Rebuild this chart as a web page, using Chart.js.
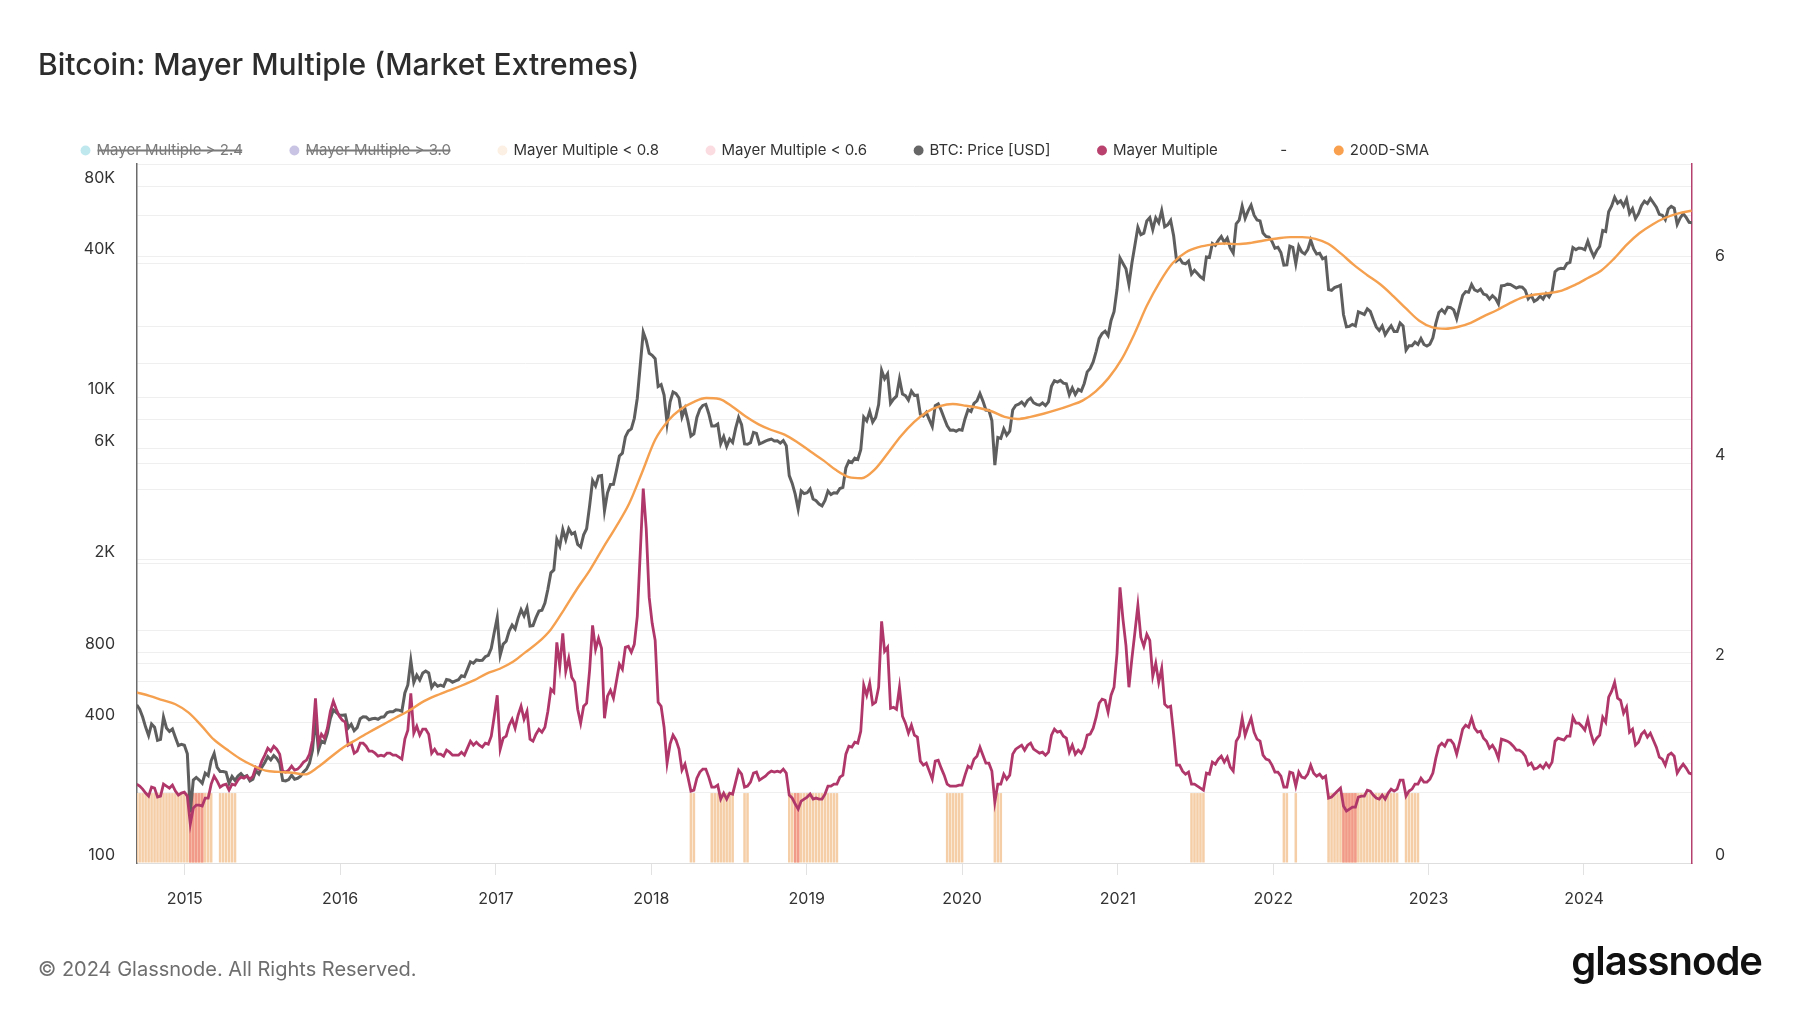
<!DOCTYPE html>
<html>
<head>
<meta charset="utf-8">
<title>Bitcoin: Mayer Multiple (Market Extremes)</title>
<script src="https://cdn.jsdelivr.net/npm/chart.js@4.4.1/dist/chart.umd.min.js"></script>
<style>
  html, body { margin: 0; padding: 0; background: #ffffff; }
  #wrap { position: relative; width: 1800px; height: 1013px; overflow: hidden; font-family: Inter, 'Noto Sans', sans-serif; }
  #c { position: absolute; left: 0; top: 0; }
  #title { position: absolute; left: 38px; top: 46px; font-size: 30px; line-height: 36px; font-weight: 500; color: #2d2d2d; white-space: nowrap; }
  #footer { position: absolute; left: 38px; top: 957px; font-size: 20px; line-height: 24px; color: #6e6e6e; white-space: nowrap; }
  #logo { position: absolute; right: 38px; top: 937px; font-size: 40px; line-height: 48px; font-weight: 600; letter-spacing: -1px; color: #111; white-space: nowrap; }
</style>
</head>
<body>
<div id="wrap">
  <canvas id="c" width="1800" height="1013"></canvas>
  <div id="title">Bitcoin: Mayer Multiple (Market Extremes)</div>
  <div id="footer">© 2024 Glassnode. All Rights Reserved.</div>
  <div id="logo">glassnode</div>
</div>
<script>
// ---------------- DATA ----------------
// Weekly samples (every 7 days starting 2014-09-10)
const seriesStart = Date.UTC(2014, 8, 10);

const btcPrice = [
  // 2014
  477,457,423,383,352,395,383,336,339,423,380,367,376,346,319,323,320,
  // 2015
  294,165,227,233,227,220,243,237,275,295,257,247,247,245,220,235,226,236,242,234,237,225,229,249,241,258,270,286,277,289,281,268,226,225,228,238,229,231,236,246,253,268,305,420,305,334,328,361,417,454,442,432,
  // 2016
  431,432,380,394,370,381,416,424,423,412,416,418,414,422,424,441,446,446,454,453,448,537,581,740,595,640,610,653,666,654,567,592,574,580,573,613,609,597,605,612,636,630,678,730,720,744,740,742,768,779,834,975,
  // 2017
  1130,780,870,895,990,1050,1010,1125,1222,1150,1245,1040,1045,1130,1205,1215,1305,1495,1760,1810,2450,2290,2700,2440,2720,2580,2620,2330,2270,2560,2720,3410,4380,4150,4580,4600,3250,3880,4210,4220,4830,5580,5740,6740,7140,7300,8100,9880,13700,19000,17500,15400,
  // 2018
  15100,14600,11100,11300,10200,7700,9500,10500,10330,9900,8200,8900,7900,6800,6950,8170,8860,9200,9300,8480,7500,7500,7650,6300,6760,6130,6600,6380,7330,8170,7600,6290,6270,6370,7050,6980,6290,6370,6460,6540,6600,6480,6490,6340,6500,6180,4600,4260,3830,3300,3950,3850,
  // 2019
  3880,4030,3650,3590,3470,3410,3600,3950,3810,3880,3870,4050,4090,4960,5310,5230,5460,5390,5940,8200,7900,8660,7800,8180,9280,13000,11980,12570,9400,9800,10080,11950,10300,10140,9700,10600,10160,10180,8430,8290,8590,8000,7470,9180,9340,8760,8110,7520,7200,7220,7130,7250,
  // 2020
  7200,8070,8820,8660,9390,9620,10350,9600,8790,8760,7930,5100,6700,6640,7300,6860,7130,8800,9200,9310,9520,9200,9670,9890,9450,9300,9230,9430,9190,9530,11110,11750,11580,11780,11460,11400,10230,10940,10250,10780,10600,11430,12820,13270,14150,15700,17800,18730,19150,18330,21310,23240,28990,
  // 2021
  39500,37400,35500,30400,37600,44800,53500,49700,50500,57000,58900,52300,58800,56000,63100,53800,54800,57300,49200,38400,39300,37600,37300,38300,33700,35000,33900,32800,32100,39900,39700,45600,44700,47000,48800,46100,48100,43600,41500,55300,57400,65900,58400,62900,66500,60300,57500,57000,50600,48900,48600,46500,
  // 2022
  43500,43900,41700,36800,36900,44400,43900,37300,44400,41900,41100,42900,47100,43200,41100,41400,39200,39700,28900,28700,29500,29800,30200,22600,20000,20100,20500,20200,23200,22900,22600,23900,23300,21500,20000,19300,20200,18500,19400,20200,19100,19100,20800,20200,15900,16600,16600,17200,16800,17800,16800,16550,
  // 2023
  16850,17940,20700,23050,23700,22950,24300,24200,23650,21700,24400,27300,28350,28170,30390,28800,28400,29000,27650,27400,26300,27200,26500,25100,30000,30100,30500,30400,29900,29350,29700,29600,28700,26400,27300,25750,26200,27100,26350,27800,26900,28400,34500,35400,35650,35550,37400,37850,43800,42900,43600,43450,
  // 2024
  42850,46650,42750,40100,42550,44350,51800,51300,62400,66100,72000,67900,69500,65980,70600,61300,64300,58300,61200,66200,69200,67600,71100,68200,65200,60800,60300,57700,64100,65800,64600,55100,58700,61200,59000,56200,56000
];

const mayerMultiple = [
  // 2014
  0.79,0.77,0.74,0.70,0.67,0.76,0.75,0.66,0.67,0.79,0.77,0.75,0.78,0.72,0.68,0.70,0.71,
  // 2015
  0.67,0.39,0.55,0.58,0.58,0.57,0.65,0.65,0.79,0.87,0.82,0.76,0.78,0.79,0.73,0.79,0.78,0.83,0.86,0.85,0.87,0.84,0.87,0.96,0.94,1.02,1.08,1.15,1.12,1.17,1.14,1.09,0.92,0.91,0.93,0.97,0.93,0.94,0.97,1.01,1.03,1.09,1.23,1.65,1.20,1.29,1.25,1.35,1.52,1.62,1.54,1.47,
  // 2016
  1.43,1.41,1.18,1.20,1.10,1.12,1.20,1.20,1.17,1.12,1.12,1.10,1.07,1.08,1.07,1.10,1.10,1.08,1.08,1.06,1.04,1.24,1.33,1.70,1.30,1.37,1.28,1.34,1.34,1.29,1.10,1.14,1.09,1.09,1.07,1.13,1.11,1.08,1.08,1.08,1.11,1.08,1.15,1.22,1.18,1.21,1.18,1.16,1.20,1.19,1.27,1.47,
  // 2017
  1.68,1.14,1.25,1.27,1.38,1.44,1.35,1.48,1.57,1.44,1.52,1.24,1.22,1.29,1.34,1.31,1.36,1.52,1.74,1.71,2.21,1.97,2.30,1.92,2.05,1.86,1.81,1.54,1.40,1.57,1.60,1.93,2.38,2.14,2.25,2.15,1.45,1.67,1.73,1.65,1.82,1.99,1.94,2.16,2.17,2.11,2.19,2.47,3.11,3.75,3.35,2.66,
  // 2018
  2.40,2.23,1.61,1.57,1.36,1.00,1.19,1.28,1.23,1.14,0.93,0.99,0.86,0.72,0.73,0.85,0.91,0.94,0.94,0.86,0.76,0.76,0.78,0.64,0.70,0.64,0.70,0.69,0.81,0.93,0.89,0.76,0.77,0.81,0.90,0.91,0.83,0.85,0.87,0.90,0.92,0.91,0.92,0.91,0.94,0.90,0.68,0.65,0.59,0.54,0.62,0.64,
  // 2019
  0.66,0.69,0.64,0.65,0.64,0.64,0.69,0.77,0.77,0.79,0.79,0.86,0.88,1.09,1.17,1.16,1.21,1.20,1.32,1.78,1.68,1.80,1.59,1.61,1.76,2.42,2.12,2.16,1.55,1.56,1.54,1.76,1.47,1.40,1.30,1.38,1.28,1.26,1.02,0.98,1.00,0.92,0.84,1.02,1.03,0.95,0.88,0.79,0.77,0.77,0.77,0.78,
  // 2020
  0.78,0.88,0.97,0.95,1.04,1.07,1.16,1.08,1.00,1.00,0.92,0.61,0.79,0.79,0.89,0.84,0.88,1.09,1.14,1.16,1.18,1.13,1.18,1.20,1.14,1.12,1.10,1.11,1.08,1.11,1.28,1.34,1.31,1.32,1.27,1.25,1.11,1.18,1.09,1.13,1.10,1.16,1.28,1.29,1.35,1.46,1.60,1.64,1.63,1.51,1.68,1.76,2.10,
  // 2021
  2.76,2.44,2.18,1.76,2.05,2.31,2.58,2.26,2.17,2.29,2.23,1.87,2.00,1.81,1.95,1.59,1.56,1.57,1.29,0.98,0.98,0.92,0.89,0.91,0.79,0.79,0.77,0.75,0.73,0.90,0.89,1.01,0.99,1.04,1.07,1.01,1.06,0.96,0.92,1.22,1.27,1.45,1.28,1.37,1.45,1.31,1.24,1.22,1.08,1.04,1.03,0.98,
  // 2022
  0.91,0.91,0.87,0.76,0.76,0.91,0.90,0.77,0.91,0.86,0.85,0.89,0.98,0.90,0.87,0.89,0.85,0.87,0.65,0.66,0.69,0.72,0.75,0.57,0.52,0.54,0.56,0.56,0.66,0.67,0.67,0.73,0.72,0.68,0.65,0.64,0.68,0.64,0.70,0.74,0.72,0.74,0.83,0.83,0.67,0.72,0.74,0.79,0.79,0.85,0.81,0.81,
  // 2023
  0.84,0.90,1.05,1.17,1.20,1.17,1.23,1.23,1.19,1.09,1.21,1.34,1.38,1.36,1.45,1.35,1.31,1.32,1.25,1.22,1.15,1.18,1.13,1.05,1.24,1.23,1.22,1.20,1.17,1.13,1.13,1.11,1.07,0.98,1.00,0.94,0.95,0.98,0.95,1.00,0.96,1.01,1.22,1.25,1.24,1.23,1.27,1.27,1.46,1.40,1.40,1.37,
  // 2024
  1.33,1.44,1.30,1.20,1.25,1.28,1.46,1.41,1.66,1.72,1.81,1.65,1.63,1.50,1.56,1.31,1.34,1.18,1.21,1.29,1.32,1.26,1.30,1.23,1.16,1.06,1.04,0.98,1.08,1.10,1.07,0.90,0.95,0.99,0.95,0.90,0.89
];

// 200-day SMA, sampled on the 10th of each month from 2014-09 to 2024-09
const sma200 = [
  540,522,500,480,
  442,387,339,307,281,262,249,246,244,240,258,285,
  315,340,365,392,420,450,488,520,548,575,608,650,
  682,730,800,884,1006,1224,1496,1812,2257,2771,3489,4733,
  6553,7930,8834,9510,9897,9800,9100,8267,7633,7217,6900,6400,
  5833,5333,4867,4533,4483,4890,5723,6783,7797,8610,9133,9337,
  9173,8970,8687,8213,8047,8220,8473,8800,9187,9650,10580,12050,
  14530,18850,24620,31300,37610,41840,43980,45080,45550,45280,45870,46950,
  47890,48560,48540,47710,45440,41120,36790,33330,30380,27110,23870,21250,
  19890,19640,19980,20820,22180,23580,25230,26770,27550,27930,28640,30210,
  32400,34850,38980,44960,50420,55040,58780,61440,63000
];

const yearTicks = [2015, 2016, 2017, 2018, 2019, 2020, 2021, 2022, 2023, 2024];
const priceGridValues = [100, 200, 400, 600, 800, 1000, 2000, 4000, 6000, 8000, 10000, 20000, 40000, 60000, 80000, 100000];
const priceTickLabels = {100: '100', 400: '400', 800: '800', 2000: '2K', 6000: '6K', 10000: '10K', 40000: '40K', 80000: '80K'};
const mmGridValues = [0, 1, 2, 3, 4, 5, 6, 7];
const mmTickLabels = {0: '0', 2: '2', 4: '4', 6: '6'};
const bandLevel = 0.7; // height of the threshold bands on the Mayer Multiple axis

const legendLabels = ['Mayer Multiple > 2.4', 'Mayer Multiple > 3.0', 'Mayer Multiple < 0.8', 'Mayer Multiple < 0.6', 'BTC: Price [USD]', 'Mayer Multiple', '-', '200D-SMA'];

// ---------------- BUILD ----------------
const DAY = 86400000;
const weekDates = btcPrice.map((_, i) => seriesStart + i * 7 * DAY);
const smaDates = sma200.map((_, i) => Date.UTC(2014, 8 + i, 10));

const priceData = btcPrice.map((v, i) => ({x: weekDates[i], y: v}));
const mmData = mayerMultiple.map((v, i) => ({x: weekDates[i], y: v}));
const smaData = sma200.map((v, i) => ({x: smaDates[i], y: v}));
const band = test => mayerMultiple.map((v, i) => test(v) ? {x: weekDates[i], y: bandLevel} : null).filter(Boolean);

const legendColors = ['#bfe8ee', '#c9c4e4', '#fcefe3', '#fbdde1', '#666666', '#b8416d', 'rgba(0,0,0,0)', '#f8a04e'];

Chart.defaults.font.family = "Inter, 'Noto Sans', sans-serif";

const barCommon = {type: 'bar', yAxisID: 'y2', xAxisID: 'x', barPercentage: 0.85, categoryPercentage: 1, grouped: false, borderWidth: 0};

const legendHeightFix = {
  id: 'legendHeightFix',
  afterInit(chart) {
    const lg = chart.legend;
    if (!lg || lg._fixed) return;
    const fit = lg.fit;
    lg.fit = function () { fit.call(this); this.height -= 4; };
    lg._fixed = true;
  }
};

const tickFont = {size: 16, family: "Inter, 'Noto Sans', sans-serif"};

new Chart(document.getElementById('c'), {
  type: 'line',
  data: {
    datasets: [
      Object.assign({label: legendLabels[0], data: band(v => v > 2.4), backgroundColor: '#bfe8ee', hidden: true, order: 7}, barCommon),
      Object.assign({label: legendLabels[1], data: band(v => v > 3.0), backgroundColor: '#c9c4e4', hidden: true, order: 8}, barCommon),
      Object.assign({label: legendLabels[2], data: band(v => v < 0.8), backgroundColor: '#f5cea7', order: 5}, barCommon),
      Object.assign({label: legendLabels[3], data: band(v => v < 0.6), backgroundColor: '#f29a89', order: 4}, barCommon),
      {label: legendLabels[4], type: 'line', data: priceData, yAxisID: 'y', borderColor: '#5e5e5e', borderWidth: 3, pointRadius: 0, tension: 0, order: 2},
      {label: legendLabels[5], type: 'line', data: mmData, yAxisID: 'y2', borderColor: '#b0376a', borderWidth: 2.8, pointRadius: 0, tension: 0, order: 1},
      {label: legendLabels[6], type: 'line', data: [], yAxisID: 'y2', borderColor: 'rgba(0,0,0,0)', pointRadius: 0, order: 6},
      {label: legendLabels[7], type: 'line', data: smaData, yAxisID: 'y', borderColor: '#f5a04f', borderWidth: 2.4, pointRadius: 0, cubicInterpolationMode: 'monotone', order: 0}
    ]
  },
  options: {
    responsive: false,
    devicePixelRatio: 1,
    animation: false,
    layout: {padding: {left: 34, top: 95, right: 0, bottom: 0}},
    plugins: {
      title: {display: false},
      tooltip: {enabled: false},
      legend: {
        display: true,
        position: 'top',
        align: 'start',
        labels: {
          usePointStyle: true,
          pointStyle: 'circle',
          boxWidth: 7,
          boxHeight: 7,
          padding: 48,
          color: '#333333',
          font: {size: 15, family: "Inter, 'Noto Sans', sans-serif"},
          sort: (a, b) => a.datasetIndex - b.datasetIndex,
          generateLabels(chart) {
            const items = Chart.defaults.plugins.legend.labels.generateLabels(chart);
            items.forEach(it => {
              const c = legendColors[it.datasetIndex];
              it.fillStyle = c;
              it.strokeStyle = c;
              it.lineWidth = 0;
              it.pointStyle = 'circle';
              it.fontColor = it.hidden ? '#7a7a7a' : '#333333';
            });
            return items;
          }
        }
      }
    },
    scales: {
      x: {
        type: 'linear',
        position: 'bottom',
        min: Date.UTC(2014, 8, 10, 18),
        max: Date.UTC(2024, 8, 10, 18),
        offset: false,
        afterBuildTicks: s => { s.ticks = yearTicks.map(y => ({value: Date.UTC(y, 0, 1)})); },
        afterFit: s => { s.height = 150; },
        ticks: {
          autoSkip: false, maxRotation: 0, minRotation: 0, padding: 15,
          color: '#333333', font: tickFont,
          callback: v => String(new Date(v).getUTCFullYear())
        },
        grid: {display: true, offset: false, drawOnChartArea: false, drawTicks: true, tickLength: 12, color: '#e2e2e2'},
        border: {display: true, color: '#dedede', width: 1}
      },
      y: {
        type: 'logarithmic',
        position: 'left',
        min: 100,
        max: 100000,
        afterBuildTicks: s => { s.ticks = priceGridValues.map(v => ({value: v})); },
        afterFit: s => { s.width = 103; },
        ticks: {
          autoSkip: false, padding: 22, labelOffset: -8,
          color: '#333333', font: tickFont,
          callback: v => priceTickLabels[v] || ''
        },
        grid: {color: '#efefef', lineWidth: 1, drawTicks: false},
        border: {display: true, color: '#6b6b6b', width: 1.5}
      },
      y2: {
        type: 'linear',
        position: 'right',
        min: 0,
        max: 7,
        afterBuildTicks: s => { s.ticks = mmGridValues.map(v => ({value: v})); },
        afterFit: s => { s.width = 108; },
        ticks: {
          autoSkip: false, padding: 23, labelOffset: -8,
          color: '#333333', font: tickFont,
          callback: v => mmTickLabels[v] || ''
        },
        grid: {color: '#efefef', lineWidth: 1, drawTicks: false},
        border: {display: true, color: '#b5426e', width: 1.5}
      }
    }
  },
  plugins: [legendHeightFix]
});
</script>
</body>
</html>
